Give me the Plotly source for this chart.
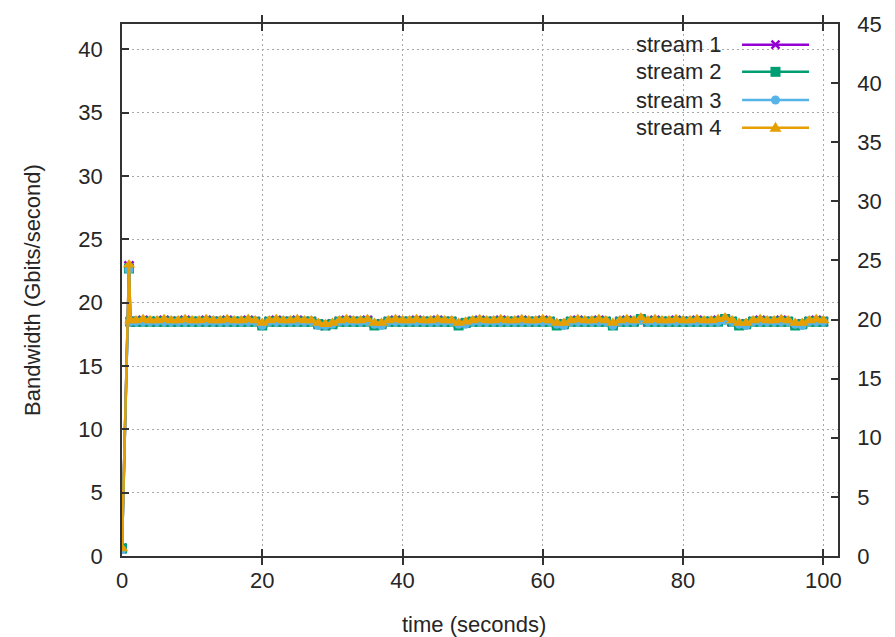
import plotly.graph_objects as go

# ---------------- data ----------------
names = ["stream 1", "stream 2", "stream 3", "stream 4"]

time_s = [0.0, 1.0, 1.2,
          2, 3, 4, 5, 6, 7, 8, 9, 10, 11, 12, 13, 14, 15, 16, 17, 18, 19,
          20, 21, 22, 23, 24, 25, 26, 27, 28, 29, 30, 31, 32, 33, 34, 35, 36, 37, 38, 39,
          40, 41, 42, 43, 44, 45, 46, 47, 48, 49, 50, 51, 52, 53, 54, 55, 56, 57, 58, 59,
          60, 61, 62, 63, 64, 65, 66, 67, 68, 69, 70, 71, 72, 73, 74, 75, 76, 77, 78, 79,
          80, 81, 82, 83, 84, 85, 86, 87, 88, 89, 90, 91, 92, 93, 94, 95, 96, 97, 98, 99,
          100]

stream1 = [0.6, 22.9, 18.5,
           18.5, 18.6, 18.5, 18.5, 18.6, 18.5, 18.5, 18.6, 18.5, 18.5,
           18.6, 18.5, 18.5, 18.6, 18.5, 18.5, 18.6, 18.5,
           18.3,
           18.5, 18.6, 18.5, 18.5, 18.6, 18.5, 18.5,
           18.3, 18.2, 18.3,
           18.5, 18.6, 18.5, 18.5, 18.6,
           18.3, 18.3,
           18.5, 18.6, 18.5, 18.5, 18.6, 18.5, 18.5, 18.6, 18.5, 18.5,
           18.3, 18.4,
           18.5, 18.6, 18.5, 18.5, 18.6, 18.5, 18.5, 18.6, 18.5, 18.5, 18.6, 18.5,
           18.3, 18.3,
           18.5, 18.6, 18.5, 18.5, 18.6, 18.5,
           18.3,
           18.5, 18.6, 18.5,
           18.7,
           18.5, 18.6, 18.5, 18.5, 18.6, 18.5, 18.5, 18.6, 18.5, 18.5, 18.6,
           18.7,
           18.5,
           18.3, 18.3,
           18.5, 18.6, 18.5, 18.5, 18.6, 18.5,
           18.3, 18.3,
           18.5, 18.6, 18.5]

stream2 = [0.6, 22.7, 18.5,
           18.5, 18.5, 18.5, 18.5, 18.5, 18.5, 18.5, 18.5, 18.5, 18.5,
           18.5, 18.5, 18.5, 18.5, 18.5, 18.5, 18.5, 18.5,
           18.2,
           18.5, 18.5, 18.5, 18.5, 18.5, 18.5, 18.5,
           18.3, 18.2, 18.3,
           18.5, 18.5, 18.5, 18.5, 18.5,
           18.2, 18.3,
           18.5, 18.5, 18.5, 18.5, 18.5, 18.5, 18.5, 18.5, 18.5, 18.5,
           18.2, 18.4,
           18.5, 18.5, 18.5, 18.5, 18.5, 18.5, 18.5, 18.5, 18.5, 18.5, 18.5, 18.5,
           18.2, 18.3,
           18.5, 18.5, 18.5, 18.5, 18.5, 18.5,
           18.2,
           18.5, 18.5, 18.5,
           18.7,
           18.5, 18.5, 18.5, 18.5, 18.5, 18.5, 18.5, 18.5, 18.5, 18.5, 18.5,
           18.7,
           18.5,
           18.2, 18.3,
           18.5, 18.5, 18.5, 18.5, 18.5, 18.5,
           18.2, 18.3,
           18.5, 18.5, 18.5]

stream3 = [0.5, 22.6, 18.5,
           18.5, 18.5, 18.5, 18.5, 18.5, 18.5, 18.5, 18.5, 18.5, 18.5,
           18.5, 18.5, 18.5, 18.5, 18.5, 18.5, 18.5, 18.5,
           18.2,
           18.5, 18.5, 18.5, 18.5, 18.5, 18.5, 18.5,
           18.2, 18.2, 18.3,
           18.5, 18.5, 18.5, 18.5, 18.5,
           18.3, 18.2,
           18.5, 18.5, 18.5, 18.5, 18.5, 18.5, 18.5, 18.5, 18.5, 18.5,
           18.3, 18.3,
           18.5, 18.5, 18.5, 18.5, 18.5, 18.5, 18.5, 18.5, 18.5, 18.5, 18.5, 18.5,
           18.3, 18.2,
           18.5, 18.5, 18.5, 18.5, 18.5, 18.5,
           18.2,
           18.5, 18.5, 18.5,
           18.6,
           18.5, 18.5, 18.5, 18.5, 18.5, 18.5, 18.5, 18.5, 18.5, 18.5, 18.5,
           18.6,
           18.5,
           18.3, 18.2,
           18.5, 18.5, 18.5, 18.5, 18.5, 18.5,
           18.3, 18.2,
           18.5, 18.5, 18.5]

stream4 = [0.6, 23.0, 18.6,
           18.6, 18.7, 18.6, 18.6, 18.7, 18.6, 18.6, 18.7, 18.6, 18.6,
           18.7, 18.6, 18.6, 18.7, 18.6, 18.6, 18.7, 18.6,
           18.4,
           18.6, 18.7, 18.6, 18.6, 18.7, 18.6, 18.6,
           18.4, 18.3, 18.4,
           18.6, 18.7, 18.6, 18.6, 18.7,
           18.4, 18.4,
           18.6, 18.7, 18.6, 18.6, 18.7, 18.6, 18.6, 18.7, 18.6, 18.6,
           18.4, 18.5,
           18.6, 18.7, 18.6, 18.6, 18.7, 18.6, 18.6, 18.7, 18.6, 18.6, 18.7, 18.6,
           18.4, 18.4,
           18.6, 18.7, 18.6, 18.6, 18.7, 18.6,
           18.4,
           18.6, 18.7, 18.6,
           18.8,
           18.6, 18.7, 18.6, 18.6, 18.7, 18.6, 18.6, 18.7, 18.6, 18.6, 18.7,
           18.8,
           18.6,
           18.4, 18.4,
           18.6, 18.7, 18.6, 18.6, 18.7, 18.6,
           18.4, 18.4,
           18.6, 18.7, 18.6]

series = [stream1, stream2, stream3, stream4]

x_ticks = [0, 20, 40, 60, 80, 100]
y_ticks = [0, 5, 10, 15, 20, 25, 30, 35, 40]
y2_ticks = [0, 5, 10, 15, 20, 25, 30, 35, 40, 45]

# ---------------- style ----------------
colors = ["#9400d3", "#009e73", "#56b4e9", "#e69f00"]
symbols = ["x-thin-open", "square", "circle", "triangle-up"]
msizes = [9, 10, 9, 11]
FONT = "Liberation Sans, Arial, Helvetica, sans-serif"
FS = 22
TXT = "#262626"
GRID = "#a8a8a8"
AX = "#333333"

fig = go.Figure()
for name, vals, c, s, ms in zip(names, series, colors, symbols, msizes):
    fig.add_trace(go.Scatter(
        x=time_s, y=vals, name=name, mode="lines+markers",
        line=dict(color=c, width=2.5),
        marker=dict(symbol=s, size=ms, color=c,
                    line=dict(color=c, width=2.5 if s.startswith("x") else 0)),
        showlegend=False, xaxis="x", yaxis="y",
    ))

# empty trace so the right axis is drawn
fig.add_trace(go.Scatter(x=[None], y=[None], xaxis="x", yaxis="y2",
                         showlegend=False, hoverinfo="skip"))

# ---------------- custom gnuplot-style key ----------------
key_rows = [0.9612, 0.9101, 0.8571, 0.8052]
line_x0, line_x1, mark_x, text_x = 0.866, 0.9595, 0.9127, 0.841
shapes = []
annotations = []
for name, c, s, yy in zip(names, colors, symbols, key_rows):
    shapes.append(dict(type="line", xref="paper", yref="paper",
                       x0=line_x0, x1=line_x1, y0=yy, y1=yy,
                       line=dict(color=c, width=2.5), layer="above"))
    common = dict(xref="paper", yref="paper", xsizemode="pixel", ysizemode="pixel",
                  xanchor=mark_x, yanchor=yy, layer="above")
    if s.startswith("x"):
        shapes.append(dict(type="path", path="M -4,-4 L 4,4 M -4,4 L 4,-4",
                           line=dict(color=c, width=2.5), **common))
    elif s == "square":
        shapes.append(dict(type="rect", x0=-5, x1=5, y0=-5, y1=5,
                           fillcolor=c, line=dict(color=c, width=0), **common))
    elif s == "circle":
        shapes.append(dict(type="circle", x0=-4.5, x1=4.5, y0=-4.5, y1=4.5,
                           fillcolor=c, line=dict(color=c, width=0), **common))
    else:
        shapes.append(dict(type="path", path="M -6,-4 L 6,-4 L 0,6 Z",
                           fillcolor=c, line=dict(color=c, width=0), **common))
    annotations.append(dict(text=name, xref="paper", yref="paper", x=text_x, y=yy,
                            xanchor="right", yanchor="middle", showarrow=False,
                            font=dict(size=FS, color=TXT, family=FONT)))

annotations.append(dict(text="time (seconds)", xref="paper", yref="paper",
                        x=0.492, y=-0.128, xanchor="center", yanchor="middle",
                        showarrow=False, font=dict(size=FS, color=TXT, family=FONT)))
annotations.append(dict(text="Bandwidth (Gbits/second)", xref="paper", yref="paper",
                        x=-0.1257, y=0.5, xanchor="center", yanchor="middle",
                        textangle=-90, showarrow=False,
                        font=dict(size=FS, color=TXT, family=FONT)))

axis_common = dict(ticks="inside", ticklen=7, tickwidth=1.5, tickcolor=AX,
                   showline=True, linecolor=AX, linewidth=1.5, zeroline=False,
                   tickfont=dict(size=FS, color=TXT, family=FONT))

fig.update_layout(
    width=895, height=637,
    margin=dict(l=122, r=57, t=22, b=81),
    paper_bgcolor="white", plot_bgcolor="white",
    font=dict(family=FONT, size=FS, color=TXT),
    showlegend=False,
    xaxis=dict(range=[0, 102.1], tickvals=x_ticks, mirror="allticks",
               showgrid=True, gridcolor=GRID, gridwidth=1, griddash="2px,3px",
               ticklabelstandoff=4, **axis_common),
    yaxis=dict(range=[0, 42], tickvals=y_ticks,
               showgrid=True, gridcolor=GRID, gridwidth=1, griddash="2px,3px",
               ticklabelstandoff=13, **axis_common),
    yaxis2=dict(range=[0, 45], tickvals=y2_ticks, overlaying="y", side="right",
                showgrid=False, ticklabelstandoff=13, **axis_common),
    shapes=shapes, annotations=annotations,
)

# remove the default page margin so the figure sits at the window's top-left corner
fig.write_html(
    "out.html",
    config={"displayModeBar": False},
    post_script="document.body.style.margin='0';document.body.style.padding='0';"
                "document.body.style.overflow='hidden';",
)
